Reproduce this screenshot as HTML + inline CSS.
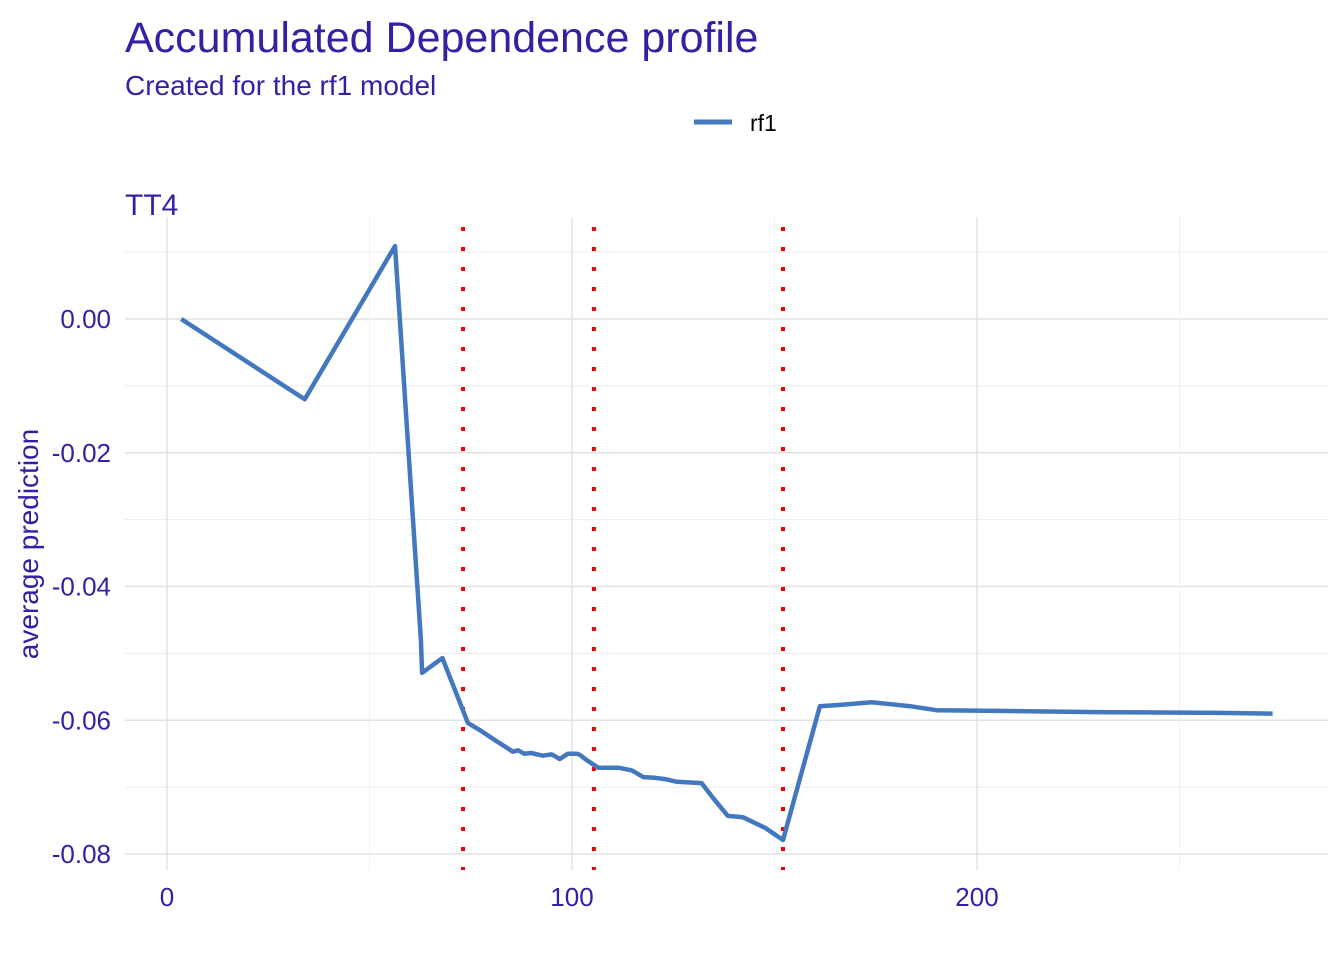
<!DOCTYPE html>
<html><head><meta charset="utf-8"><style>
html,body{margin:0;padding:0;background:#fff;}
svg{display:block;font-family:"Liberation Sans",Arial,sans-serif;}
</style></head><body>
<svg id="chart" width="1344" height="960" viewBox="0 0 1344 960">
<text x="125" y="52" font-size="43" fill="#371ea3">Accumulated Dependence profile</text>
<text x="125" y="95" font-size="28" fill="#371ea3">Created for the rf1 model</text>
<g>
<line x1="694" y1="122" x2="732" y2="122" stroke="#4378bf" stroke-width="5"/>
<text x="750" y="131" font-size="23" fill="#000">rf1</text>
</g>
<text x="125" y="215" font-size="30" fill="#371ea3">TT4</text>
<g id="grid"></g>
<g id="vlines"></g>
<g id="series"></g>
<g id="axes"></g>
<text transform="translate(38,544) rotate(-90)" text-anchor="middle" font-size="28" fill="#371ea3">average prediction</text>
</svg>
<script>
const xVals=[3.5,34,56.3,62.7,63,68,74.3,77.3,81,85.4,86.7,88.2,89.9,92.8,95,97,99,101.2,102,103.7,106.5,108.6,111.5,114.8,117.6,120.4,123,125.9,132,134.8,138.5,142.2,147.7,152.1,161.2,166.2,174,183.5,190,205,232.3,259.8,273];
const yVals=[0,-0.012,0.0109,-0.048,-0.0529,-0.0507,-0.0604,-0.0615,-0.063,-0.0647,-0.0645,-0.065,-0.0649,-0.0653,-0.0651,-0.0658,-0.065,-0.065,-0.0652,-0.066,-0.0671,-0.0671,-0.0671,-0.0675,-0.0685,-0.0686,-0.0688,-0.0692,-0.0694,-0.0716,-0.0743,-0.0745,-0.0761,-0.0779,-0.0579,-0.0577,-0.0573,-0.0579,-0.0585,-0.0586,-0.0588,-0.0589,-0.059];
const refLines=[73.1,105.4,152.1];
const xTicks=[0,100,200];
const xTickLabels=["0","100","200"];
const yTicks=[0,-0.02,-0.04,-0.06,-0.08];
const yTickLabels=["0.00","-0.02","-0.04","-0.06","-0.08"];

const NS="http://www.w3.org/2000/svg";
const L=125,R=1328,T=217,B=870;
function sx(v){return 167+v*4.05;}
function sy(v){return 319-v*6687.5;}
function mk(tag,attrs,parent){const e=document.createElementNS(NS,tag);for(const k in attrs)e.setAttribute(k,attrs[k]);parent.appendChild(e);return e;}
const grid=document.getElementById('grid');
for(let i=0;i<yTicks.length;i++){
  const l=mk('line',{x1:L,x2:R,y1:sy(yTicks[i]),y2:sy(yTicks[i]),stroke:'#e2e2e2','stroke-width':1.4},grid);
  
  
  const m=mk('line',{x1:L,x2:R,y1:sy(yTicks[i]+0.01),y2:sy(yTicks[i]+0.01),stroke:'#ececec','stroke-width':1},grid);
  
  
}
for(let i=0;i<xTicks.length;i++){
  const l=mk('line',{x1:sx(xTicks[i]),x2:sx(xTicks[i]),y1:T,y2:B,stroke:'#e2e2e2','stroke-width':1.4},grid);
  
  
  const m=mk('line',{x1:sx(xTicks[i]+50),x2:sx(xTicks[i]+50),y1:T,y2:B,stroke:'#f0f0f0','stroke-width':1},grid);
  
  
}
const vg=document.getElementById('vlines');
for(const r of refLines){
  const l=mk('line',{x1:sx(r),x2:sx(r),y1:227,y2:870,stroke:'#f00000','stroke-width':4,'stroke-dasharray':'4 16'},vg);
  
  
}
const sg=document.getElementById('series');
const pts=xVals.map((x,i)=>sx(x).toFixed(1)+','+sy(yVals[i]).toFixed(1)).join(' ');
const pl=mk('polyline',{points:pts,fill:'none',stroke:'#4378bf','stroke-width':4.5,'stroke-linejoin':'round'},sg);


const ag=document.getElementById('axes');
for(let i=0;i<yTicks.length;i++){
  const t=mk('text',{x:111,y:sy(yTicks[i])+9,'text-anchor':'end','font-size':26,fill:'#371ea3'},ag);
  t.textContent=yTickLabels[i];
  
  
}
for(let i=0;i<xTicks.length;i++){
  const t=mk('text',{x:sx(xTicks[i]),y:906,'text-anchor':'middle','font-size':26,fill:'#371ea3'},ag);
  t.textContent=xTickLabels[i];
  
  
}
</script>
</body></html>
